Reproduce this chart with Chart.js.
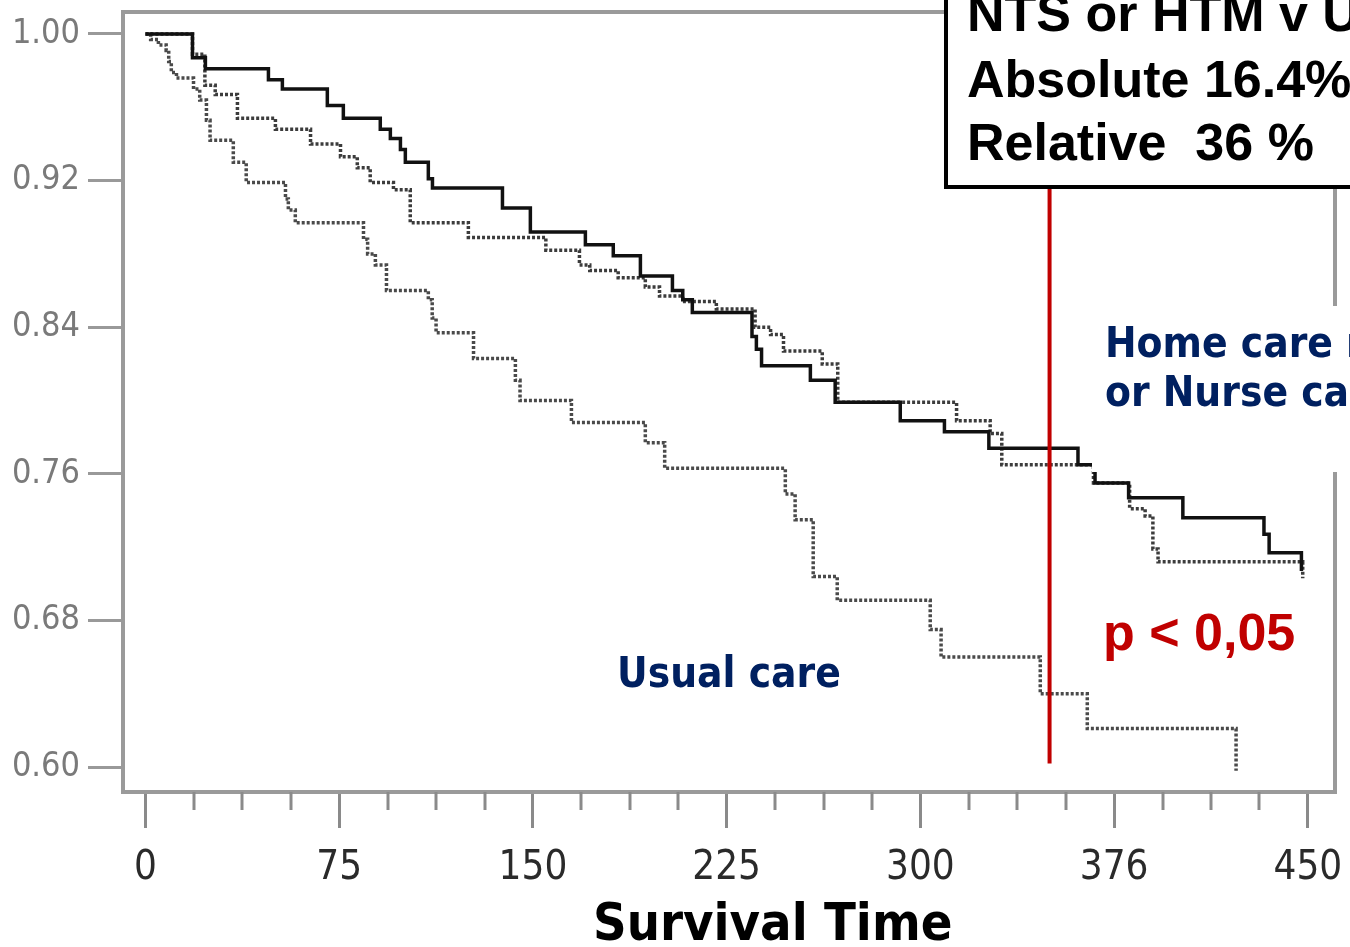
<!DOCTYPE html>
<html>
<head>
<meta charset="utf-8">
<script src="https://cdn.jsdelivr.net/npm/chart.js@4.4.1/dist/chart.umd.min.js"></script>
<style>
  html, body { margin: 0; padding: 0; background: #fff; overflow: hidden; }
  #wrap { width: 1350px; height: 947px; }
</style>
</head>
<body>
<div id="wrap"><canvas id="survivalChart" width="1350" height="947"></canvas></div>
<script>
// axis ticks
const xTicks = [0, 75, 150, 225, 300, 375, 450];
const xTickLabels = ['0', '75', '150', '225', '300', '376', '450'];
const xMinorTicks = [18.75, 37.5, 56.25, 93.75, 112.5, 131.25, 168.75, 187.5, 206.25, 243.75, 262.5, 281.25,
  318.75, 337.5, 356.25, 393.75, 412.5, 431.25];
const yTicks = [0.60, 0.68, 0.76, 0.84, 0.92, 1.00];

// solid curve (home care monitoring)
const homeTimes = [0, 18.2, 23.2, 47.6, 53.0, 70.4, 76.6, 90.9, 94.8, 98.7, 100.6, 109.5, 111.1, 138.2, 149.0,
  170.3, 181.1, 191.6, 204.0, 208.0, 211.7, 234.8, 236.5, 238.5, 257.4, 267.0, 292.2, 309.3, 326.5, 361.0,
  367.6, 380.6, 401.6, 433.0, 435.0, 447.5];
const homeSurv = [1.000, 0.987, 0.981, 0.975, 0.970, 0.961, 0.954, 0.948, 0.943, 0.937, 0.930, 0.921, 0.916,
  0.905, 0.892, 0.885, 0.879, 0.868, 0.860, 0.855, 0.848, 0.835, 0.828, 0.819, 0.811, 0.799, 0.789, 0.783,
  0.774, 0.765, 0.755, 0.747, 0.736, 0.727, 0.717, 0.707];

// dashed curve (nurse telephone support)
const nurseTimes = [0, 18.2, 23.0, 27.0, 35.6, 50.3, 63.9, 75.5, 82.0, 87.0, 96.0, 102.5, 125.0, 155.0, 168.0,
  172.0, 183.0, 193.5, 199.0, 208.0, 221.0, 236.0, 242.0, 247.0, 262.0, 268.0, 314.0, 327.0, 331.5, 367.0,
  381.0, 387.0, 390.0, 392.0, 448.0];
const nurseSurv = [1.000, 0.989, 0.972, 0.967, 0.954, 0.948, 0.940, 0.933, 0.927, 0.919, 0.915, 0.897, 0.889,
  0.882, 0.874, 0.871, 0.867, 0.862, 0.857, 0.854, 0.850, 0.840, 0.836, 0.827, 0.820, 0.799, 0.789, 0.782,
  0.765, 0.755, 0.741, 0.737, 0.719, 0.712, 0.703];

// usual care
const usualTimes = [0, 2, 5, 8, 9, 10, 12, 18.6, 21, 23.6, 25, 34, 39, 54.2, 55.3, 58, 84.4, 86, 89, 93.3,
  109.5, 111, 112.5, 127, 143.2, 145, 164.9, 193.5, 201, 247.7, 251.5, 258.5, 267.8, 303.8, 308, 346.4,
  364.6, 422.2];
const usualSurv = [1.000, 0.997, 0.994, 0.991, 0.985, 0.979, 0.976, 0.970, 0.964, 0.953, 0.942, 0.930, 0.919,
  0.910, 0.904, 0.897, 0.888, 0.880, 0.874, 0.860, 0.855, 0.845, 0.837, 0.823, 0.811, 0.800, 0.788, 0.777,
  0.763, 0.749, 0.735, 0.704, 0.691, 0.675, 0.660, 0.640, 0.621, 0.598];

const cutoffTime = 350;
const cutoffLow = 0.602;

const condensed = "'DejaVu Sans Condensed', 'DejaVu Sans', sans-serif";
const arial = "'Liberation Sans', Arial, sans-serif";
const navy = '#002060';
const red = '#c00000';

function toPoints(times, surv) {
  return times.map((t, i) => ({ x: t, y: surv[i] }));
}

function noPadding(s) {
  s.paddingTop = 0; s.paddingBottom = 0; s.paddingLeft = 0; s.paddingRight = 0;
}

const framePlugin = {
  id: 'frame',
  beforeDatasetsDraw(chart) {
    const { ctx, chartArea: a, scales } = chart;
    ctx.save();
    ctx.strokeStyle = '#9a9a9a';
    ctx.lineWidth = 4;
    ctx.strokeRect(a.left, a.top, a.right - a.left, a.bottom - a.top);
    // minor ticks on x axis
    ctx.lineWidth = 3;
    ctx.strokeStyle = '#8a8a8a';
    xMinorTicks.forEach(v => {
      const px = Math.round(scales.x.getPixelForValue(v));
      ctx.beginPath();
      ctx.moveTo(px, a.bottom);
      ctx.lineTo(px, a.bottom + 18);
      ctx.stroke();
    });
    ctx.restore();
  },
  afterDraw(chart) {
    const { ctx, scales } = chart;
    ctx.save();
    // white patch behind the home care label
    ctx.fillStyle = '#fff';
    ctx.fillRect(1092, 306, 258, 166);

    // results box
    ctx.fillRect(944, -10, 450, 197);
    ctx.strokeStyle = '#000';
    ctx.lineWidth = 4;
    ctx.strokeRect(946, -10, 450, 197);
    ctx.fillStyle = '#000';
    ctx.font = 'bold 52px ' + arial;
    ctx.textBaseline = 'alphabetic';
    ctx.fillText('NTS or HTM v UC', 967, 31);
    ctx.fillText('Absolute 16.4%', 967, 97);
    ctx.fillText('Relative  36 %', 967, 160);

    // cutoff line
    const px = scales.x.getPixelForValue(cutoffTime);
    ctx.strokeStyle = red;
    ctx.lineWidth = 4;
    ctx.beginPath();
    ctx.moveTo(px, 189);
    ctx.lineTo(px, scales.y.getPixelForValue(cutoffLow));
    ctx.stroke();

    ctx.fillStyle = red;
    ctx.font = 'bold 52px ' + arial;
    ctx.fillText('p < 0,05', 1103, 650);

    ctx.fillStyle = navy;
    ctx.font = 'bold 42px ' + condensed;
    ctx.fillText('Home care monitoring', 1105, 357);
    ctx.fillText('or Nurse calls', 1105, 406);
    ctx.fillText('Usual care', 617, 687);

    ctx.fillStyle = '#000';
    ctx.font = 'bold 52px ' + condensed;
    ctx.fillText('Survival Time', 593, 940);
    ctx.restore();
  }
};

const ctx = document.getElementById('survivalChart').getContext('2d');
new Chart(ctx, {
  type: 'line',
  data: {
    datasets: [
      { label: 'Home care', data: toPoints(homeTimes, homeSurv), borderColor: '#111', borderWidth: 3.5,
        stepped: true, pointRadius: 0, fill: false },
      { label: 'Nurse', data: toPoints(nurseTimes, nurseSurv), borderColor: '#3c3c3c', borderWidth: 3.5,
        borderDash: [3, 2], stepped: true, pointRadius: 0, fill: false },
      { label: 'Usual care', data: toPoints(usualTimes, usualSurv), borderColor: '#4a4a4a', borderWidth: 3.5,
        borderDash: [3, 2], stepped: true, pointRadius: 0, fill: false }
    ]
  },
  options: {
    responsive: false,
    animation: false,
    devicePixelRatio: 1,
    layout: { padding: { top: 12, right: 15, left: 0, bottom: 0 } },
    plugins: { legend: { display: false }, tooltip: { enabled: false } },
    scales: {
      x: {
        type: 'linear', min: -8.7, max: 460.5,
        afterBuildTicks: s => { s.ticks = xTicks.map(v => ({ value: v })); },
        afterFit: s => { s.height = 155; noPadding(s); },
        ticks: {
          callback: v => xTickLabels[xTicks.indexOf(v)],
          color: '#2a2a2a', font: { family: condensed, size: 40 }, padding: 17,
          maxRotation: 0, autoSkip: false
        },
        grid: { drawOnChartArea: false, drawTicks: true, tickLength: 36, tickColor: '#8a8a8a', tickWidth: 3 },
        border: { display: false }
      },
      y: {
        type: 'linear', min: 0.5864, max: 1.012,
        afterBuildTicks: s => { s.ticks = yTicks.map(v => ({ value: v })); },
        afterFit: s => { s.width = 123; noPadding(s); },
        ticks: { callback: v => v.toFixed(2), color: '#7a7a7a', font: { family: condensed, size: 34 }, padding: 8 },
        grid: { drawOnChartArea: false, drawTicks: true, tickLength: 35, tickColor: '#999', tickWidth: 3 },
        border: { display: false }
      }
    }
  },
  plugins: [framePlugin]
});
</script>
</body>
</html>
